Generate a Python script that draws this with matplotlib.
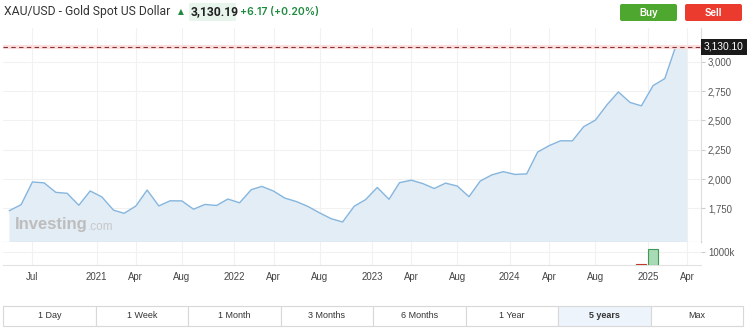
import matplotlib
matplotlib.use("Agg")
import matplotlib.pyplot as plt
import matplotlib.dates as mdates
import pandas as pd
from matplotlib.patches import FancyBboxPatch, Rectangle

# monthly closes, May 2020 .. Apr 2025
months = pd.date_range("2020-05-01", "2025-04-01", freq="MS")
closes = [
    1730, 1781, 1975, 1967, 1886, 1878, 1776, 1898,
    1847, 1734, 1707, 1769, 1906, 1770, 1814, 1813, 1742, 1783, 1774, 1829,
    1797, 1909, 1937, 1897, 1837, 1807, 1766, 1711, 1661, 1633, 1768, 1824,
    1928, 1827, 1969, 1990, 1962, 1919, 1965, 1940, 1849, 1983, 2036, 2063,
    2039, 2044, 2230, 2286, 2327, 2326, 2447, 2503, 2635, 2744, 2654, 2625,
    2798, 2858, 3124, 3130.10,
]
vol_months = ["2024-12-01", "2025-01-01"]
volumes = [40000, 1230000]
vol_colors = ["#d9534f", "#a8dab5"]
vol_edges = ["#c0392b", "#3f9a55"]

price_ticks = [1750, 2000, 2250, 2500, 2750, 3000]
xtick_dates = ["2020-07-15", "2021-01-01", "2021-04-15", "2021-08-15", "2022-01-01",
               "2022-04-15", "2022-08-15", "2023-01-01", "2023-04-15", "2023-08-15",
               "2024-01-01", "2024-04-15", "2024-08-15", "2025-01-01", "2025-04-15"]
xtick_labels = ["Jul", "2021", "Apr", "Aug", "2022", "Apr", "Aug", "2023", "Apr", "Aug",
                "2024", "Apr", "Aug", "2025", "Apr"]
ranges = ["1 Day", "1 Week", "1 Month", "3 Months", "6 Months", "1 Year", "5 years", "Max"]
selected = "5 years"

plt.rcParams["font.family"] = ["Liberation Sans", "DejaVu Sans"]

W, H = 755, 335
fig = plt.figure(figsize=(W / 100, H / 100), dpi=100)

dates = months + pd.Timedelta(days=14)
last = closes[-1]

ax = fig.add_axes([3 / W, 1 - 242 / H, 698 / W, 214 / H])
vax = fig.add_axes([3 / W, 1 - 265 / H, 698 / W, 23 / H], sharex=ax)

ax.set_ylim(1462, 3290)
ax.set_xlim(pd.Timestamp("2020-04-28"), pd.Timestamp("2025-05-22"))
ax.fill_between(dates, closes, 0, color="#e3edf6", lw=0, zorder=1)
ax.plot(dates, closes, color="#86b6de", lw=1, zorder=2)
ax.axhline(last, color="#fbdede", lw=3, zorder=3)
ax.axhline(last, color="#8a3030", lw=0.8, ls=(0, (4, 3)), zorder=4)

tick_pos = pd.to_datetime(xtick_dates)
for a in (ax, vax):
    a.set_xticks(tick_pos)
    a.grid(True, color="#f1f1f1", lw=0.8)
    a.set_axisbelow(True)
    for s in ("top", "left"):
        a.spines[s].set_visible(False)
    a.yaxis.tick_right()

ax.set_yticks(price_ticks)
ax.set_yticklabels([f"{v:,}" for v in price_ticks])
ax.tick_params(axis="y", length=3, color="#cccccc", labelsize=6.9, labelcolor="#555555", pad=2)
ax.tick_params(axis="x", length=0, labelbottom=False)
ax.spines["right"].set_color("#dddddd")
ax.spines["bottom"].set_color("#c8c8c8")

vbar_x = pd.to_datetime(vol_months) + pd.Timedelta(days=14)
vax.bar(vbar_x, volumes, width=26, color=vol_colors, edgecolor=vol_edges, lw=0.8, zorder=3)
vax.set_ylim(0, 1770000)
vax.set_yticks([1000000])
vax.set_yticklabels(["1000k"])
vax.tick_params(axis="y", length=3, color="#cccccc", labelsize=6.9, labelcolor="#555555", pad=2)
vax.set_xticklabels(xtick_labels)
vax.tick_params(axis="x", length=0, labelsize=6.9, labelcolor="#444444", pad=5)
vax.spines["right"].set_visible(False)
vax.spines["bottom"].set_color("#e2e2e2")

ax.annotate(f"{last:,.2f}", xy=(1, last), xycoords=("axes fraction", "data"),
            xytext=(2, 0), textcoords="offset points", ha="left", va="center",
            fontsize=7.4, color="white",
            bbox=dict(boxstyle="square,pad=0.3", fc="#1a1a1a", ec="none"))

# overlay in pixel coordinates for header, buttons and range bar
ov = fig.add_axes([0, 0, 1, 1])
ov.set_xlim(0, W)
ov.set_ylim(H, 0)
ov.axis("off")

ov.text(15, 225, "Investing", fontsize=12, fontweight="bold", color="#bdbdbd", va="center")
ov.text(88, 227, ".com", fontsize=8.5, color="#c8c8c8", va="center")

ov.text(4, 12, "XAU/USD - Gold Spot US Dollar", fontsize=8.7, color="#333333",
        va="center", family="Roboto")
ov.text(178, 12, "▲", fontsize=5.5, color="#1e8a3e", va="center", family="DejaVu Sans")
ov.add_patch(Rectangle((189, 3), 47, 18, color="#e8f5ec", lw=0))
ov.text(191, 12, "3,130.19", fontsize=8.7, fontweight="bold", color="#222222",
        va="center", family="Roboto")
ov.text(240, 12, "+6.17 (+0.20%)", fontsize=7.5, fontweight="semibold", color="#1e8a3e",
        va="center", family="Inter")

for x0, label, col in [(620, "Buy", "#4ea72e"), (685, "Sell", "#ea3b2e")]:
    ov.add_patch(FancyBboxPatch((x0, 4), 57, 17, boxstyle="round,pad=0,rounding_size=2",
                                fc=col, ec="none"))
    ov.text(x0 + 28.5, 12.5, label, fontsize=7, fontweight="bold", color="white",
            ha="center", va="center")

cw = 740 / len(ranges)
for i, r in enumerate(ranges):
    x0 = 3 + i * cw
    sel = r == selected
    ov.add_patch(Rectangle((x0, 306), cw, 20, fc="#eef4fb" if sel else "white",
                           ec="#d8d8d8", lw=0.8))
    ov.text(x0 + cw / 2, 316, r, fontsize=6.5, color="#333333", ha="center", va="center",
            fontweight="bold" if sel else "normal")

fig.savefig("out.png", dpi=100)
